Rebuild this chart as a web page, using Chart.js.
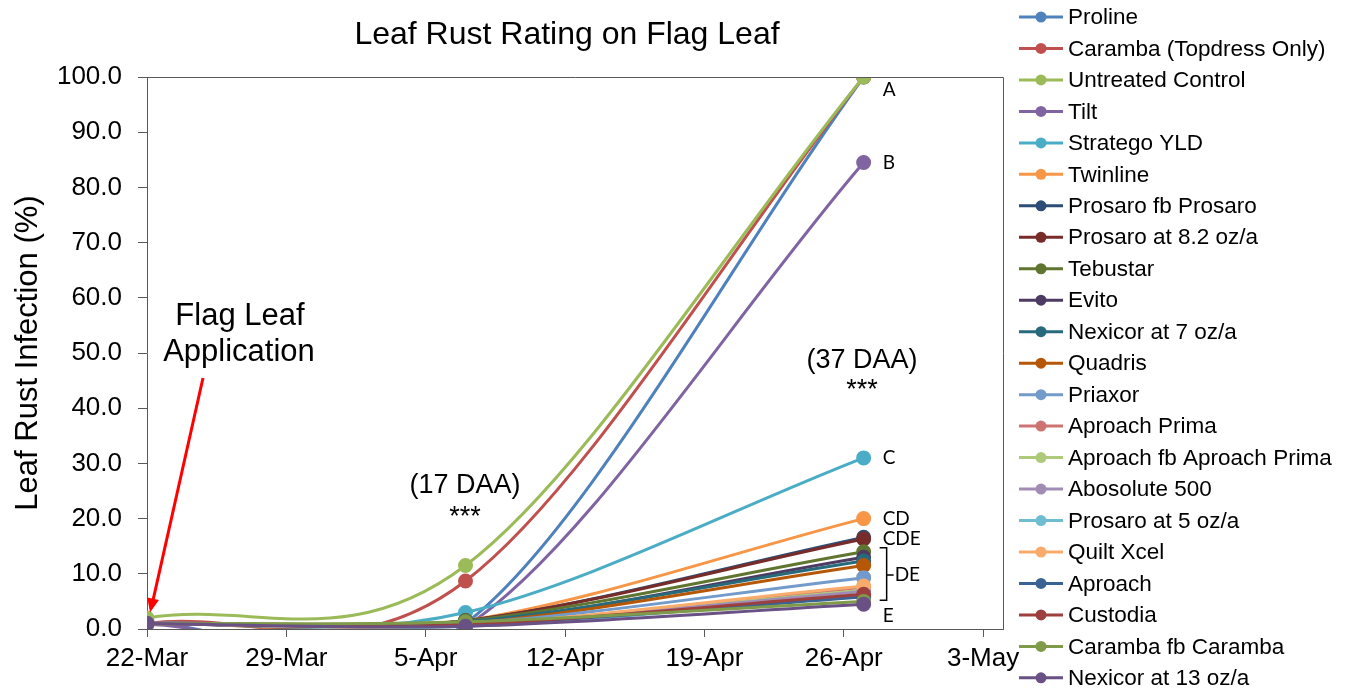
<!DOCTYPE html>
<html>
<head>
<meta charset="utf-8">
<script src="https://cdn.jsdelivr.net/npm/chart.js@4"></script>
<style>
  html, body { margin: 0; padding: 0; background: #fff; }
  #wrap { width: 1346px; height: 688px; position: relative; }
</style>
</head>
<body>
<div id="wrap"><canvas id="rustChart"></canvas></div>
<script>
// days after 22-Mar for each rating date
const ratingDays = [0, 16, 36];
const tickLabels = ["22-Mar", "29-Mar", "5-Apr", "12-Apr", "19-Apr", "26-Apr", "3-May"];

const treatments = [
  "Proline", "Caramba (Topdress Only)", "Untreated Control", "Tilt", "Stratego YLD",
  "Twinline", "Prosaro fb Prosaro", "Prosaro at 8.2 oz/a", "Tebustar", "Evito",
  "Nexicor at 7 oz/a", "Quadris", "Priaxor", "Aproach Prima", "Aproach fb Aproach Prima",
  "Abosolute 500", "Prosaro at 5 oz/a", "Quilt Xcel", "Aproach", "Custodia",
  "Caramba fb Caramba", "Nexicor at 13 oz/a"
];

// leaf rust % at each rating date
const proline = [1.0, 1.0, 100];
const carambaTopdress = [1.0, 8.7, 100];
const untreated = [2.0, 11.5, 100];
const tilt = [0.8, 0.4, 84.5];
const stratego = [1.0, 3.0, 31.0];
const twinline = [1.0, 1.5, 20.0];
const prosaroFbProsaro = [1.0, 1.5, 16.6];
const prosaro82 = [1.0, 1.5, 16.3];
const tebustar = [1.0, 1.5, 14.0];
const evito = [1.0, 1.0, 13.0];
const nexicor7 = [1.0, 1.3, 12.3];
const quadris = [1.0, 1.0, 11.5];
const priaxor = [1.0, 1.0, 9.3];
const aproachPrima = [1.0, 0.8, 7.5];
const aproachFbPrima = [1.0, 0.8, 7.0];
const absolute500 = [1.0, 0.8, 6.8];
const prosaro5 = [1.0, 0.5, 6.0];
const quiltXcel = [1.0, 0.8, 7.8];
const aproach = [1.0, 0.8, 5.8];
const custodia = [1.0, 0.8, 6.3];
const carambaFbCaramba = [1.0, 1.3, 5.0];
const nexicor13 = [1.0, 0.5, 4.5];

const seriesValues = [
  proline, carambaTopdress, untreated, tilt, stratego, twinline, prosaroFbProsaro,
  prosaro82, tebustar, evito, nexicor7, quadris, priaxor, aproachPrima, aproachFbPrima,
  absolute500, prosaro5, quiltXcel, aproach, custodia, carambaFbCaramba, nexicor13
];

const colors = [
  "#4F81BD", "#C0504D", "#9BBB59", "#8064A2", "#4BACC6", "#F79646",
  "#2C4D75", "#772C2A", "#5F7530", "#4D3B62", "#276A7C", "#B65708",
  "#729ACA", "#CD7371", "#AFC97A", "#A18CB6", "#6FBDD1", "#F9AB6B",
  "#3A6394", "#9C3F3D", "#7F9A48", "#695185"
];

const letterLabels = [
  { text: "A", value: 100 }, { text: "B", value: 84.5 }, { text: "C", value: 31 },
  { text: "CD", value: 20 }, { text: "CDE", value: 16.3 }, { text: "E", value: 3 }
];

const FONT = "'Liberation Sans', Arial, sans-serif";

const datasets = treatments.map((name, i) => ({
  label: name,
  data: seriesValues[i].map((v, j) => ({ x: ratingDays[j], y: v })),
  borderColor: colors[i],
  backgroundColor: colors[i],
  borderWidth: 3,
  pointRadius: 6,
  pointHoverRadius: 6,
  tension: 0.4,
  order: treatments.length - i
}));

// spreadsheet-style smoothing: tangent = (next - prev) / 6, stronger at the ends
const smoothCurves = {
  id: "smoothCurves",
  beforeDatasetsDraw(chart) {
    chart.getSortedVisibleDatasetMetas().forEach(meta => {
      meta.dataset.updateControlPoints(chart.chartArea);
      const pts = meta.data;
      pts.forEach((p, i) => {
        const prev = pts[i - 1] || p;
        const next = pts[i + 1] || p;
        const k = (i === 0 || i === pts.length - 1) ? 1 / 3 : 1 / 6;
        const dx = (next.x - prev.x) * k, dy = (next.y - prev.y) * k;
        p.cp1x = p.x - dx; p.cp1y = p.y - dy;
        p.cp2x = p.x + dx; p.cp2y = p.y + dy;
      });
    });
  }
};

// border box, custom legend and annotations
const decorations = {
  id: "decorations",
  afterDraw(chart) {
    const { ctx, chartArea: a, scales } = chart;
    const xs = scales.x, ys = scales.y;
    ctx.save();

    // plot area frame (top and right)
    ctx.strokeStyle = "#595959";
    ctx.lineWidth = 1;
    ctx.beginPath();
    ctx.moveTo(a.left, a.top + 0.5);
    ctx.lineTo(a.right + 0.5, a.top + 0.5);
    ctx.lineTo(a.right + 0.5, a.bottom);
    ctx.stroke();

    // title
    ctx.fillStyle = "#000";
    ctx.textAlign = "center";
    ctx.textBaseline = "middle";
    ctx.font = "32px " + FONT;
    ctx.fillText("Leaf Rust Rating on Flag Leaf", 567, 35);

    // application note + arrow
    ctx.font = "31px " + FONT;
    ctx.fillText("Flag Leaf", 240, 316);
    ctx.fillText("Application", 239, 352);
    ctx.strokeStyle = "#FF0000";
    ctx.fillStyle = "#FF0000";
    ctx.lineWidth = 3;
    const tipX = xs.getPixelForValue(0) + 3, tipY = ys.getPixelForValue(3);
    ctx.beginPath();
    ctx.moveTo(203, 378);
    ctx.lineTo(tipX + 3, tipY - 12);
    ctx.stroke();
    const ang = Math.atan2(tipY - 378, tipX - 203);
    ctx.beginPath();
    ctx.moveTo(tipX, tipY);
    ctx.lineTo(tipX - 14 * Math.cos(ang) + 6 * Math.sin(ang), tipY - 14 * Math.sin(ang) - 6 * Math.cos(ang));
    ctx.lineTo(tipX - 14 * Math.cos(ang) - 6 * Math.sin(ang), tipY - 14 * Math.sin(ang) + 6 * Math.cos(ang));
    ctx.closePath();
    ctx.fill();

    // DAA notes
    ctx.fillStyle = "#000";
    ctx.font = "27px " + FONT;
    ctx.fillText("(17 DAA)", 465, 486);
    ctx.fillText("***", 465, 518);
    ctx.fillText("(37 DAA)", 862, 361);
    ctx.fillText("***", 862, 391);

    // significance letters
    const lx = xs.getPixelForValue(ratingDays[2]) + 19;
    ctx.textAlign = "left";
    ctx.font = "19px Lato, " + FONT;
    letterLabels.forEach(l => {
      let y = ys.getPixelForValue(l.value);
      if (l.text === "A") y += 13;
      if (l.text === "E") y += 3;
      ctx.fillText(l.text, lx, y);
    });
    ctx.fillText("DE", lx + 12, ys.getPixelForValue(9.8));
    ctx.strokeStyle = "#000";
    ctx.lineWidth = 1.5;
    const bx = lx + 4, bTop = ys.getPixelForValue(14.7), bBot = ys.getPixelForValue(5.2), bMid = ys.getPixelForValue(9.8);
    ctx.beginPath();
    ctx.moveTo(bx - 7, bTop);
    ctx.lineTo(bx, bTop);
    ctx.lineTo(bx, bBot);
    ctx.lineTo(bx - 7, bBot);
    ctx.moveTo(bx, bMid);
    ctx.lineTo(bx + 7, bMid);
    ctx.stroke();

    // legend
    ctx.font = "22.5px " + FONT;
    ctx.textBaseline = "middle";
    treatments.forEach((name, i) => {
      const y = 17 + i * 31.47;
      ctx.strokeStyle = colors[i];
      ctx.fillStyle = colors[i];
      ctx.lineWidth = 3;
      ctx.beginPath();
      ctx.moveTo(1019, y);
      ctx.lineTo(1063, y);
      ctx.stroke();
      ctx.beginPath();
      ctx.arc(1041, y, 5.5, 0, Math.PI * 2);
      ctx.fill();
      ctx.fillStyle = "#000";
      ctx.fillText(name, 1068, y + 1);
    });
    ctx.restore();
  }
};

new Chart(document.getElementById("rustChart"), {
  type: "line",
  data: { datasets },
  options: {
    responsive: true,
    maintainAspectRatio: false,
    animation: false,
    layout: { padding: { top: 77, right: 343, left: 0, bottom: 0 } },
    plugins: {
      legend: { display: false },
      title: { display: false },
      tooltip: { enabled: false }
    },
    scales: {
      x: {
        type: "linear",
        min: 0,
        max: 43,
        afterFit: s => { s.height = 59; },
        afterBuildTicks: s => {
          s.ticks = tickLabels.map((t, i) => ({ value: i * 7 }));
        },
        ticks: {
          callback: (v) => tickLabels[Math.round(v / 7)],
          color: "#000",
          font: { family: FONT, size: 26 },
          padding: 6,
          maxRotation: 0,
          autoSkip: false
        },
        grid: { drawOnChartArea: false, tickLength: 8, color: "#595959" },
        border: { color: "#595959", width: 1 }
      },
      y: {
        min: 0,
        max: 100,
        afterFit: s => { s.width = 147; },
        ticks: {
          stepSize: 10,
          callback: v => v.toFixed(1),
          color: "#000",
          font: { family: FONT, size: 26 },
          padding: 16
        },
        grid: { drawOnChartArea: false, tickLength: 9, color: "#595959" },
        border: { color: "#595959", width: 1 },
        title: {
          display: true,
          text: "Leaf Rust Infection (%)",
          color: "#000",
          font: { family: FONT, size: 31 },
          padding: { top: 10, bottom: 0 }
        }
      }
    }
  },
  plugins: [smoothCurves, decorations]
});
</script>
</body>
</html>
